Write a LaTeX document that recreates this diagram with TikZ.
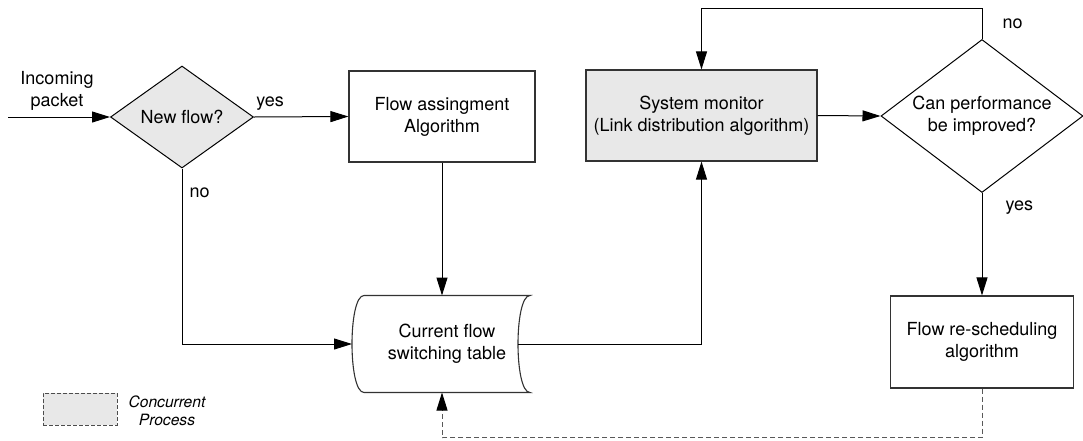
\documentclass[tikz,border=0pt]{standalone}
\usepackage{fontspec}
\setmainfont{TeX Gyre Heros}
\usetikzlibrary{shapes.geometric}
\usetikzlibrary{arrows.meta}
\definecolor{fillgray}{gray}{0.91}

\begin{document}
\begin{tikzpicture}[
x=0.5pt, y=-0.5pt,
font=\fontsize{9}{11}\selectfont,
line width=0.5pt,
arr/.style={-{Triangle[length=9pt,width=5.5pt]}},
block/.style={draw=black!80, line width=0.55pt, align=center, inner sep=0pt},
decision/.style={draw, diamond, align=center, inner sep=0pt},
store/.style={align=center, inner sep=0pt, minimum width=82.5pt, minimum height=48pt},
lbl/.style={inner sep=1pt}
]
\useasboundingbox (0,0) rectangle (1083,440);

\node[decision, fill=fillgray, aspect=1.4, minimum width=71.5pt, minimum height=51pt] (nf) at (182,117) {New flow?};
\node[block, minimum width=93pt, minimum height=45.5pt] (fa) at (442,116.5) {Flow assingment\\Algorithm};
\node[block, fill=fillgray, minimum width=115.5pt, minimum height=45.5pt] (sm) at (701.5,115.5) {System monitor\\(Link distribution algorithm)};
\node[decision, aspect=1.32, minimum width=101pt, minimum height=76.5pt] (cp) at (982,116) {Can performance\\be improved?};
\node[block, minimum width=91.5pt, minimum height=46pt] (rs) at (982,342) {Flow re-scheduling\\algorithm};
\node[store] (tb) at (447,344) {Current flow\\switching table};
\draw[black!80, line width=0.55pt] (tb.north west) -- (tb.north east)
    .. controls ([xshift=-8pt]tb.north east) and ([xshift=-8pt]tb.south east) .. (tb.south east)
    -- (tb.south west)
    .. controls ([xshift=-8pt]tb.south west) and ([xshift=-8pt]tb.north west) .. (tb.north west);
\coordinate (tbw) at ([xshift=-6pt]tb.west);
\coordinate (tbe) at ([xshift=-6pt]tb.east);

\node[align=center, inner sep=0pt] (ip) at (57,91) {Incoming\\packet};
\coordinate (in) at (8,117);

\draw[arr] (in) -- (nf.west);
\draw[arr] (nf.east) -- node[lbl, pos=0.17, above=2pt] {yes} (fa.west);
\draw[arr] (nf.south) |- node[lbl, pos=0.07, right=2.5pt] {no} (tbw);
\draw[arr] (fa.south) -- (fa.south |- tb.north);
\draw[arr] (tbe) -| (sm.south);
\draw[arr] (sm.east) -- (cp.west);
\draw[arr] (cp.north) -- node[lbl, right=9pt] {no} ++(0,-31) -| (sm.north);
\draw[arr] (cp.south) -- node[lbl, pos=0.14, right=10.5pt] {yes} (rs.north);
\draw[-{Triangle[length=9pt,width=5.5pt,color=black]}, dashed, dash pattern=on 2.5pt off 1.5pt, gray!70!black] (rs.south) -- ++(0,49) -| (fa.south |- tb.south);

\node[draw=gray!60!black, dashed, dash pattern=on 2pt off 1pt, fill=fillgray, minimum width=37pt, minimum height=16pt, inner sep=0pt] (lg) at (80,409) {};
\node[align=center, inner sep=0pt, font=\fontsize{7.8}{9}\selectfont\itshape] (lgt) at (167,411) {Concurrent\\Process};
\end{tikzpicture}
\end{document}
